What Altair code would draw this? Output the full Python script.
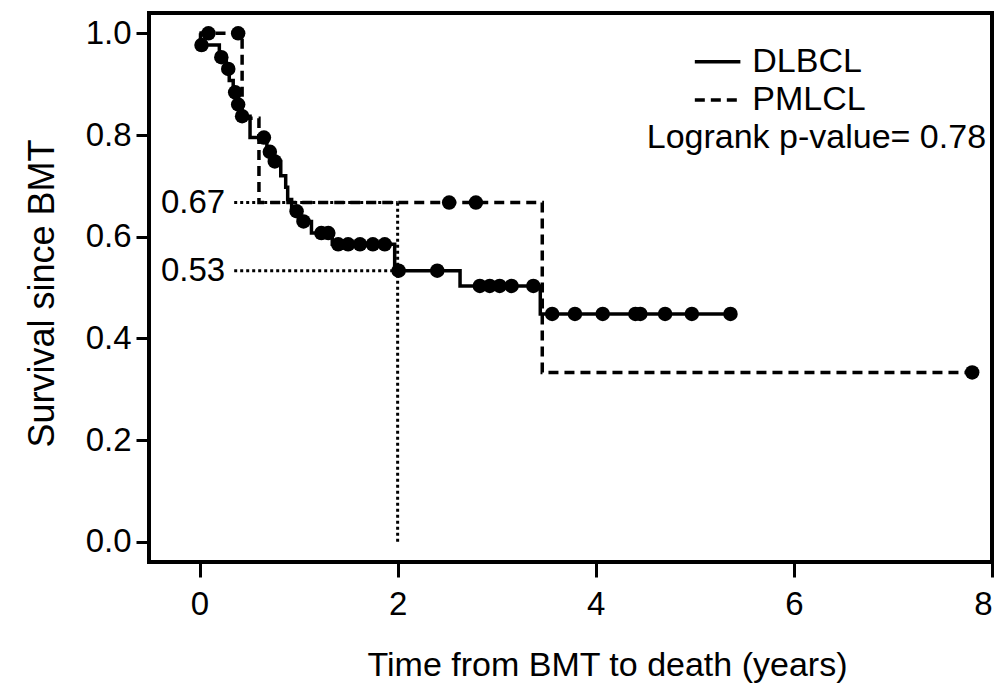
import altair as alt
import pandas as pd

# ---- data ----
dl_times = [0.0, 0.01, 0.20, 0.27, 0.30, 0.34, 0.37, 0.42, 0.51, 0.68, 0.74, 0.82,
            0.87, 0.89, 0.93, 1.00, 1.13, 1.34, 1.97, 2.63, 3.44, 5.36]
dl_surv = [1.0, 0.977, 0.953, 0.930, 0.907, 0.884, 0.860, 0.837, 0.795, 0.767, 0.748, 0.720,
           0.697, 0.673, 0.650, 0.630, 0.607, 0.585, 0.533, 0.503, 0.448, 0.448]
dl_cens_t = [0.02, 0.22, 0.29, 0.36, 0.39, 0.43, 0.65, 0.71, 0.76, 0.98, 1.05, 1.23, 1.30,
             1.40, 1.50, 1.62, 1.75, 1.87, 2.01, 2.40, 2.83, 2.93, 3.03, 3.15, 3.37,
             3.56, 3.79, 4.07, 4.40, 4.45, 4.70, 4.97, 5.36]
dl_cens_s = [0.977, 0.953, 0.930, 0.884, 0.860, 0.837, 0.795, 0.767, 0.748, 0.650, 0.630,
             0.607, 0.607, 0.585, 0.585, 0.585, 0.585, 0.585, 0.533, 0.533, 0.503, 0.503,
             0.503, 0.503, 0.503, 0.448, 0.448, 0.448, 0.448, 0.448, 0.448, 0.448, 0.448]

pm_times = [0.0, 0.43, 0.60, 3.46, 7.80]
pm_surv = [1.0, 0.833, 0.667, 0.333, 0.333]
pm_cens_t = [0.09, 0.39, 2.52, 2.79, 7.80]
pm_cens_s = [1.0, 1.0, 0.667, 0.667, 0.333]

groups = ["DLBCL", "PMLCL"]
ref_time = 2.0
ref_levels = [0.667, 0.533]
ref_labels = ["0.67", "0.53"]
ref_start = 0.35
pvalue_text = "Logrank p-value= 0.78"

x_ticks = [0, 2, 4, 6, 8]
y_ticks = [0.0, 0.2, 0.4, 0.6, 0.8, 1.0]

FONT = "Liberation Sans"
FS = 33

# ---- tables ----
curves = pd.DataFrame(
    [{"t": t, "s": s, "g": "DLBCL", "o": i} for i, (t, s) in enumerate(zip(dl_times, dl_surv))]
    + [{"t": t, "s": s, "g": "PMLCL", "o": i} for i, (t, s) in enumerate(zip(pm_times, pm_surv))]
)
cens = pd.DataFrame(
    [{"t": t, "s": s} for t, s in zip(dl_cens_t, dl_cens_s)]
    + [{"t": t, "s": s} for t, s in zip(pm_cens_t, pm_cens_s)]
)
href = pd.DataFrame({"t": [ref_start] * 2, "t2": [ref_time] * 2, "s": ref_levels, "lab": ref_labels})
vref = pd.DataFrame({"t": [ref_time], "s": [0.0], "s2": [ref_levels[0]]})

# manual legend, placed in data coordinates
leg = pd.DataFrame({"t": [5.0, 5.0], "t2": [5.46, 5.46], "s": [0.944, 0.869],
                    "g": groups, "lt": [5.58, 5.58]})
ptext = pd.DataFrame({"t": [7.94], "s": [0.795], "lab": [pvalue_text]})

xs = alt.Scale(domain=[-0.51, 8.0], nice=False, zero=False)
ys = alt.Scale(domain=[-0.04, 1.04], nice=False, zero=False)
dash = alt.Scale(domain=groups, range=[[1, 0], [10, 6]])

xax = alt.Axis(values=x_ticks, title="Time from BMT to death (years)", grid=False, domain=False,
               tickSize=15, tickWidth=3, tickColor="black", labelFont=FONT, labelFontSize=FS,
               labelColor="black", labelPadding=11, titleFont=FONT, titleFontSize=FS + 1,
               titleFontWeight="normal", titleColor="black", titleX=458, titleY=103,
               titleBaseline="middle", format="d")
yax = alt.Axis(values=y_ticks, title="Survival since BMT", grid=False, domain=False,
               tickSize=13, tickWidth=3, tickColor="black", labelFont=FONT, labelFontSize=FS,
               labelColor="black", labelPadding=5, titleFont=FONT, titleFontSize=36,
               titleFontWeight="normal", titleColor="black", titleX=-107, titleY=280,
               titleBaseline="middle", format=".1f")

lines = alt.Chart(curves).mark_line(interpolate="step-after", color="black", strokeWidth=3.5).encode(
    x=alt.X("t:Q", scale=xs, axis=xax),
    y=alt.Y("s:Q", scale=ys, axis=yax),
    strokeDash=alt.StrokeDash("g:N", scale=dash, legend=None),
    detail="g:N",
    order="o:Q",
)
dots = alt.Chart(cens).mark_circle(color="black", opacity=1, size=210).encode(
    x=alt.X("t:Q", scale=xs), y=alt.Y("s:Q", scale=ys)
)
hrules = alt.Chart(href).mark_rule(color="black", strokeWidth=3, strokeDash=[3, 3]).encode(
    x=alt.X("t:Q", scale=xs), x2="t2:Q", y=alt.Y("s:Q", scale=ys)
)
vrule = alt.Chart(vref).mark_rule(color="black", strokeWidth=3, strokeDash=[3, 3]).encode(
    x=alt.X("t:Q", scale=xs), y=alt.Y("s:Q", scale=ys), y2="s2:Q"
)
reflab = alt.Chart(href).mark_text(align="right", baseline="middle", font=FONT, fontSize=FS,
                                   color="black", dx=-9).encode(
    x=alt.X("t:Q", scale=xs), y=alt.Y("s:Q", scale=ys), text="lab:N"
)
legline = alt.Chart(leg).mark_rule(color="black", strokeWidth=3.5).encode(
    x=alt.X("t:Q", scale=xs), x2="t2:Q", y=alt.Y("s:Q", scale=ys),
    strokeDash=alt.StrokeDash("g:N", scale=dash, legend=None),
)
legtext = alt.Chart(leg).mark_text(align="left", baseline="middle", font=FONT, fontSize=FS + 1,
                                   color="black").encode(
    x=alt.X("lt:Q", scale=xs), y=alt.Y("s:Q", scale=ys), text="g:N"
)
ptxt = alt.Chart(ptext).mark_text(align="right", baseline="middle", font=FONT, fontSize=FS + 1,
                                  color="black").encode(
    x=alt.X("t:Q", scale=xs), y=alt.Y("s:Q", scale=ys), text="lab:N"
)

chart = alt.layer(hrules, vrule, reflab, lines, dots, legline, legtext, ptxt).properties(
    width=843, height=549,
    padding={"left": 149, "top": 13, "right": 14, "bottom": 122},
    autosize=alt.AutoSizeParams(type="none"),
    background="white",
).configure_view(stroke="black", strokeWidth=4)

chart.save("out.html", embed_options={"renderer": "svg", "actions": False})
